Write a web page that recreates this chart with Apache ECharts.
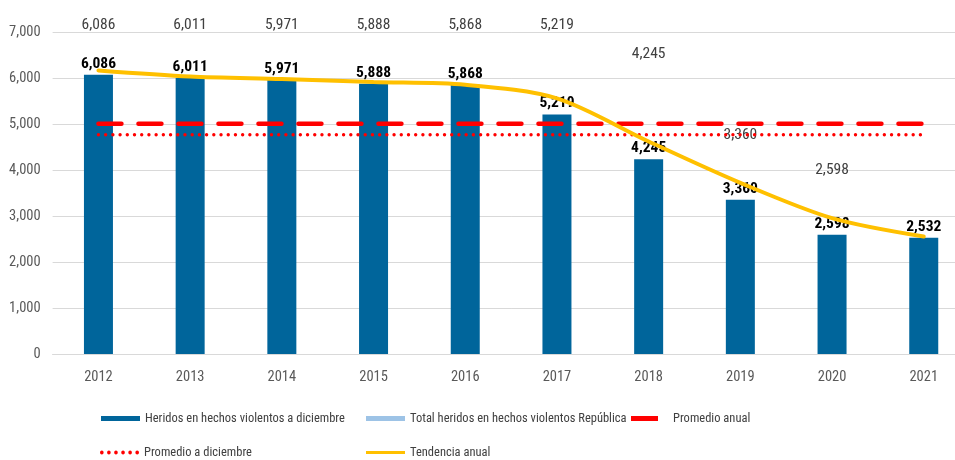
<!DOCTYPE html>
<html>
<head>
<meta charset="utf-8">
<script src="https://cdn.jsdelivr.net/npm/echarts@6/dist/echarts.min.js"></script>
<style>html,body{margin:0;padding:0;background:#fff;overflow:hidden;width:955px;height:460px}#c{width:975px;height:460px}</style>
</head>
<body>
<div id="c"></div>
<script>
const categories = ['2012','2013','2014','2015','2016','2017','2018','2019','2020','2021'];
const heridosDiciembre = [6086, 6011, 5971, 5888, 5868, 5219, 4245, 3360, 2598, 2532];
const totalRepublica = [6934, 6934, 6934, 6934, 6934, 6934, 6295, 4536, 3772, null];
const tendenciaAnual = [6178, 6047, 5990, 5925, 5866, 5570, 4630, 3729, 2959, 2558];
const promedioAnual = 5016;
const promedioDiciembre = 4778;
const yTicks = [0, 1000, 2000, 3000, 4000, 5000, 6000, 7000];

const FONT = "'Roboto Condensed', 'Liberation Sans', sans-serif";
const fmt = v => Number(v).toLocaleString('en-US');

const names = {
  bar: 'Heridos en hechos violentos a diciembre',
  total: 'Total heridos en hechos violentos República',
  anual: 'Promedio anual',
  dic: 'Promedio a diciembre',
  tend: 'Tendencia anual'
};

const dotsPath = 'path://' + [0,1,2,3,4,5].map(i => {
  const cx = 2 + i * 7;
  return `M${cx-1.8},2a1.8,1.8 0 1,0 3.6,0a1.8,1.8 0 1,0 -3.6,0z`;
}).join(' ');

const legendText = { fontFamily: FONT, fontSize: 12.5, color: '#404040' };
function leg(name, left, top, icon, w, h, extra) {
  return Object.assign({
    show: true, left: left, top: top, orient: 'horizontal',
    selectedMode: false, icon: icon, itemWidth: w, itemHeight: h,
    symbolKeepAspect: false, padding: 0,
    textStyle: legendText,
    data: [name]
  }, extra || {});
}

const chart = echarts.init(document.getElementById('c'), null, { renderer: 'canvas' });
chart.setOption({
  animation: false,
  textStyle: { fontFamily: FONT },
  grid: { left: 52.6, top: 32.7, width: 917, height: 321.3, containLabel: false },
  legend: [
    leg(names.bar, 101, 412, 'rect', 39, 5),
    leg(names.total, 366, 412, 'rect', 39, 5, { data: [{ name: names.total, itemStyle: { color: '#9DC3E6' } }] }),
    leg(names.anual, 631, 412, 'rect', 27, 5, { textStyle: Object.assign({}, legendText, { padding: [0, 0, 0, 10] }) }),
    leg(names.dic, 100, 446, dotsPath, 39, 4),
    leg(names.tend, 366, 446, 'rect', 39, 3)
  ],
  xAxis: {
    type: 'category', data: categories, boundaryGap: true,
    axisLine: { show: true, lineStyle: { color: '#d9d9d9', width: 1 } },
    axisTick: { show: false },
    axisLabel: { fontFamily: FONT, fontSize: 14.5, color: '#595959', margin: 16 }
  },
  yAxis: {
    type: 'value', min: yTicks[0], max: yTicks[yTicks.length - 1], interval: 1000,
    axisLine: { show: false }, axisTick: { show: false },
    splitLine: { lineStyle: { color: '#d9d9d9', width: 1 } },
    axisLabel: { fontFamily: FONT, fontSize: 14.5, color: '#595959', margin: 12, formatter: v => fmt(v) }
  },
  series: [
    {
      name: names.bar, type: 'bar', data: heridosDiciembre, barWidth: 29, barGap: '-100%',
      itemStyle: { color: '#00659B' }, z: 2,
      label: { show: true, position: 'top', distance: 3, fontFamily: FONT, fontSize: 15.5, fontWeight: 'bold', color: '#000', formatter: p => fmt(p.value) }
    },
    {
      name: names.total, type: 'bar', data: totalRepublica, barWidth: 29, barGap: '-100%',
      itemStyle: { color: 'rgba(0,0,0,0)' }, z: 1,
      label: { show: true, position: 'top', distance: 3, fontFamily: FONT, fontSize: 15.5, color: '#404040', formatter: p => fmt(heridosDiciembre[p.dataIndex]) }
    },
    {
      name: names.anual, type: 'line', data: categories.map(() => promedioAnual), symbol: 'none',
      itemStyle: { color: '#FF0000' },
      lineStyle: { color: '#FF0000', width: 4.5, type: [23, 17], cap: 'round' }, z: 3
    },
    {
      name: names.dic, type: 'line', data: categories.map(() => promedioDiciembre), symbol: 'none',
      itemStyle: { color: '#FF0000' },
      lineStyle: { color: '#FF0000', width: 3.4, type: [0.01, 7.2], cap: 'round' }, z: 3
    },
    {
      name: names.tend, type: 'line', data: tendenciaAnual, symbol: 'none', smooth: 0.3,
      itemStyle: { color: '#FFC000' },
      lineStyle: { color: '#FFC000', width: 4, cap: 'round' }, z: 4
    }
  ]
});
</script>
</body>
</html>
